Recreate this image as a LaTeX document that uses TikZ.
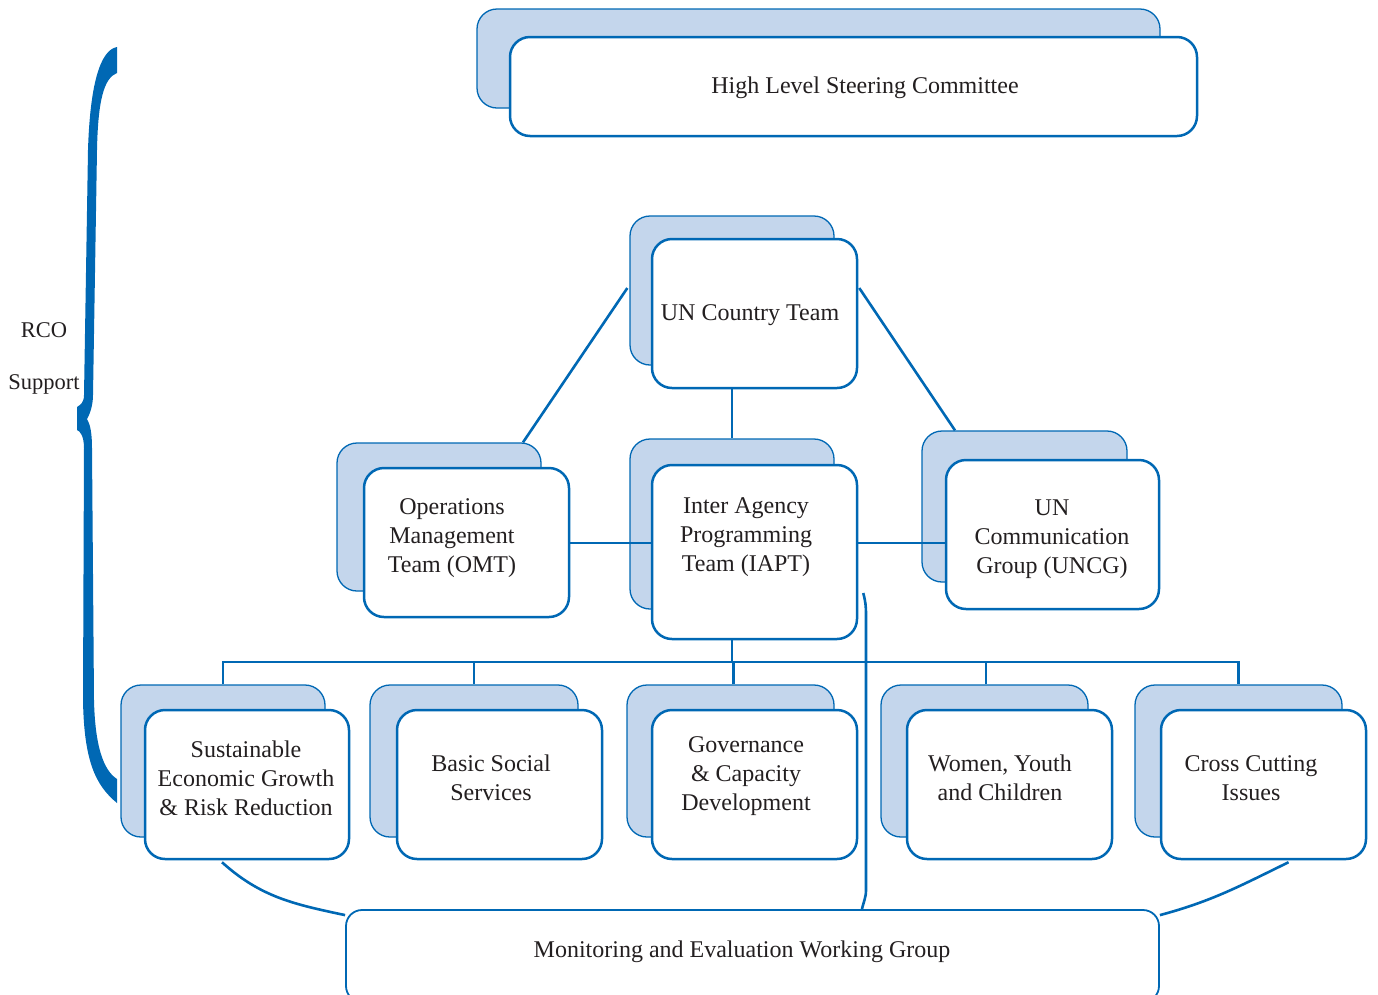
\documentclass[tikz,border=0pt]{standalone}
\usepackage{fontspec}
\setmainfont{Liberation Serif}
\usetikzlibrary{calc}
\definecolor{unblue}{RGB}{0,104,180}
\definecolor{unlight}{RGB}{196,214,236}
\definecolor{txt}{RGB}{35,31,32}
\tikzset{
  backbox/.style={draw=unblue, fill=unlight, line width=1.3pt, rounded corners=20pt, inner sep=0pt},
  frontbox/.style={draw=unblue, fill=white, line width=2.5pt, rounded corners=20pt, inner sep=0pt},
  mebox/.style={draw=unblue, fill=white, line width=1.8pt, rounded corners=16pt, inner sep=0pt},
  lbl/.style={text=txt, align=center, inner sep=0pt, font=\fontsize{24}{29}\selectfont},
  sidelbl/.style={text=txt, inner sep=0pt, font=\fontsize{22.5}{27}\selectfont},
  conn/.style={draw=unblue, line width=2.6pt},
}
\begin{document}
\begin{tikzpicture}[x=1pt,y=-1pt]
\useasboundingbox (0,0) rectangle (1378,994);

% brace
\fill[unblue] (117,47) .. controls (100,50) and (90,85) .. (88,150) -- (84,395)
  .. controls (84,403) and (80,405) .. (77,407) -- (77,430)
  .. controls (80,431) and (84,436) .. (84,448) -- (83,700)
  .. controls (84,760) and (95,785) .. (117,803) -- (117,779)
  .. controls (103,770) and (95,745) .. (94,700) -- (92,448)
  .. controls (92,432) and (90,424) .. (87,419)
  .. controls (90,414) and (93,405) .. (93,395) -- (97,150)
  .. controls (98,100) and (104,78) .. (117,73) -- cycle;
\node[sidelbl] (rco) at (44,330) {RCO};
\node[sidelbl] (sup) at (44,384) {Support};

% back boxes
\node[backbox, minimum width=683pt, minimum height=99pt] (hlB) at (818.5,58.5) {};
\node[backbox, minimum width=204pt, minimum height=149pt] (untB) at (732,290.5) {};
\node[backbox, minimum width=204pt, minimum height=148pt] (omtB) at (439,517) {};
\node[backbox, minimum width=204pt, minimum height=170pt] (iaptB) at (732,524) {};
\node[backbox, minimum width=205pt, minimum height=151pt] (uncgB) at (1024.5,506.5) {};
\node[backbox, minimum width=204pt, minimum height=152pt] (segB) at (223,761) {};
\node[backbox, minimum width=208pt, minimum height=152pt] (bssB) at (474,761) {};
\node[backbox, minimum width=207pt, minimum height=152pt] (gcdB) at (730.5,761) {};
\node[backbox, minimum width=207pt, minimum height=152pt] (wycB) at (984.5,761) {};
\node[backbox, minimum width=207pt, minimum height=152pt] (cciB) at (1238.5,761) {};

% front boxes
\node[frontbox, minimum width=687pt, minimum height=99pt] (hlF) at (853.5,86.5) {};
\node[frontbox, minimum width=205pt, minimum height=149pt] (untF) at (754.5,313.5) {};
\node[frontbox, minimum width=205pt, minimum height=149pt] (omtF) at (466.5,542.5) {};
\node[frontbox, minimum width=205pt, minimum height=174pt] (iaptF) at (754.5,552) {};
\node[frontbox, minimum width=213pt, minimum height=149pt] (uncgF) at (1052.5,534.5) {};
\node[frontbox, minimum width=204pt, minimum height=149pt] (segF) at (247,784.5) {};
\node[frontbox, minimum width=205pt, minimum height=149pt] (bssF) at (499.5,784.5) {};
\node[frontbox, minimum width=205pt, minimum height=149pt] (gcdF) at (754.5,784.5) {};
\node[frontbox, minimum width=205pt, minimum height=149pt] (wycF) at (1009.5,784.5) {};
\node[frontbox, minimum width=205pt, minimum height=149pt] (cciF) at (1263.5,784.5) {};
\node[mebox, minimum width=813pt, minimum height=92pt] (me) at (752.5,956) {};

% connectors
\coordinate (bus) at (0,662);
\draw[conn] ([xshift=-2pt,yshift=2.5pt]untB.west) -- ([xshift=84pt]omtB.north);
\draw[conn] ([xshift=1pt,yshift=25.5pt]untF.east) -- ([xshift=-69.5pt]uncgB.north);
\draw[conn] (untB.center |- untF.south) -- (iaptB.north);
\draw[conn] (omtF.east |- 0,543) -- (iaptF.west |- 0,543);
\draw[conn] (iaptF.east |- 0,543) -- (uncgF.west |- 0,543);
\draw[conn] (iaptB.center |- iaptF.south) -- (iaptB.center |- bus);
\draw[conn] (segB.north) -- (segB.north |- bus) -- (cciB.north |- bus) -- (cciB.north);
\draw[conn] (bssB.north) -- (bssB.north |- bus);
\draw[conn] ([xshift=3pt]gcdB.north) -- ([xshift=3pt]gcdB.north |- bus);
\draw[conn] ([xshift=1.5pt]wycB.north) -- ([xshift=1.5pt]wycB.north |- bus);
\draw[conn] ([xshift=-25pt,yshift=-2pt]segF.south) to[out=-42,in=168] ([yshift=-6pt]me.north west);
\draw[conn] ([xshift=25pt,yshift=-2pt]cciF.south) to[out=206,in=15] ([yshift=-6pt]me.north east);
\draw[conn] ([xshift=5pt,yshift=-41pt]iaptF.east) to[out=-75,in=90] (866,615) -- (866,890) to[out=-90,in=78] (me.north -| 862,0);

% labels
\node[lbl] (hlT) at (865,88) {High Level Steering Committee};
\node[lbl] (untT) at (750,315) {UN Country Team};
\node[lbl] (omtT) at (452,538) {Operations\\Management\\Team (OMT)};
\node[lbl] (iaptT) at (746,537) {Inter Agency\\Programming\\Team (IAPT)};
\node[lbl] (uncgT) at (1052,539) {UN\\Communication\\Group (UNCG)};
\node[lbl] (segT) at (246,778) {Sustainable\\Economic Growth\\\& Risk Reduction};
\node[lbl] (bssT) at (491,778) {Basic Social\\Services};
\node[lbl] (gcdT) at (746,776) {Governance\\\& Capacity\\Development};
\node[lbl] (wycT) at (1000,778) {Women, Youth\\and Children};
\node[lbl] (cciT) at (1251,778) {Cross Cutting\\Issues};
\node[lbl] (meT) at (742,952) {Monitoring and Evaluation Working Group};
\end{tikzpicture}
\end{document}
